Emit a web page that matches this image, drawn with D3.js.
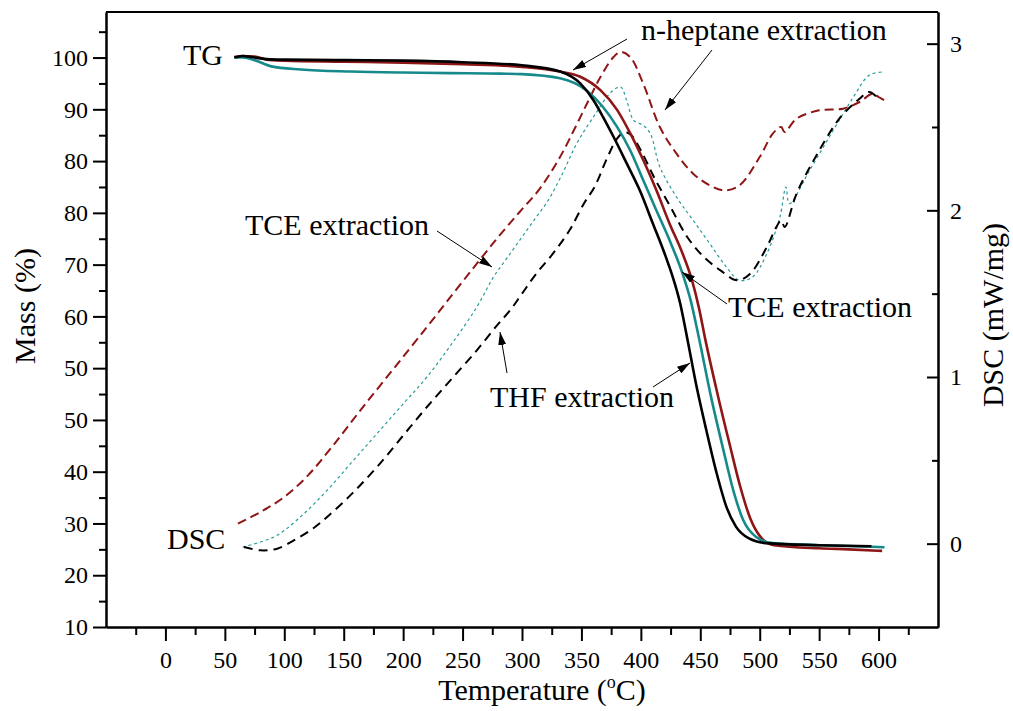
<!DOCTYPE html>
<html>
<head>
<meta charset="utf-8">
<script src="https://cdn.jsdelivr.net/npm/d3@7"></script>
<style>
  html, body { margin: 0; padding: 0; background: #fff; }
  svg text { font-family: "Liberation Serif", "Times New Roman", serif; fill: #000; }
</style>
</head>
<body>
<svg id="chart" width="1013" height="711"></svg>
<script>
// x ticks (temperature, degC)
var tempTicks = [0, 50, 100, 150, 200, 250, 300, 350, 400, 450, 500, 550, 600];
var tempMinor = [-25, 25, 75, 125, 175, 225, 275, 325, 375, 425, 475, 525, 575, 625];
// left axis: the printed labels repeat 50 and 80, so curves are kept in axis position units
var massTickPos = [10, 20, 30, 40, 50, 60, 70, 80, 90, 100, 110, 120];
var massTickLabels = ["10", "20", "30", "40", "50", "50", "60", "70", "80", "80", "90", "100"];
var massMinor = [15, 25, 35, 45, 55, 65, 75, 85, 95, 105, 115, 125];
var dscTicks = [0, 1, 2, 3];
var dscMinor = [0.5, 1.5, 2.5];

// TG curves [temperature, mass axis position]
var tgHeptane = [[58,120.1],[65,120.3],[75,120.2],[85,119.6],[100,119.4],[150,119.2],[200,119.0],[250,118.7],[300,118.2],[332,117.3],[349,116.3],[366,113.7],[380,109.9],[391,105.4],[402,100.2],[413,94.4],[424,88.0],[435,82.2],[443,77.0],[449,71.5],[454,65.8],[464,55.5],[475,45.0],[484,36.8],[492,31.0],[500,27.6],[512,25.8],[550,25.2],[575,25.0],[603,24.7]];
var tgTce = [[58,120.0],[65,120.0],[75,119.5],[89,118.3],[114,117.7],[156,117.3],[200,117.1],[240,117.0],[282,116.9],[300,116.8],[332,116.0],[354,113.7],[368,110.5],[380,106.6],[391,102.1],[402,96.3],[413,90.5],[424,84.8],[435,78.3],[442,73.0],[448,66.8],[459,54.5],[469,44.6],[478,36.2],[486,30.7],[497,27.4],[511,26.2],[550,25.8],[580,25.6],[605,25.4]];
var tgThf = [[58,120.0],[65,120.3],[72,120.1],[85,119.7],[100,119.6],[150,119.5],[200,119.4],[250,119.1],[300,118.5],[332,117.3],[349,115.0],[360,111.8],[368,108.6],[377,104.7],[388,99.6],[399,94.4],[410,88.0],[421,81.5],[427,77.5],[433,72.6],[439,65.8],[447,56.3],[455,48.1],[464,39.5],[472,33.2],[480,29.4],[491,27.1],[505,26.2],[550,25.8],[594,25.6]];

// DSC curves [temperature, mW/mg]
var dscHeptane = [[61,0.12],[80,0.19],[100,0.28],[120,0.41],[140,0.58],[164,0.80],[192,1.05],[220,1.30],[242,1.50],[262,1.68],[280,1.84],[298,1.99],[315,2.13],[332,2.32],[345,2.50],[356,2.66],[366,2.80],[377,2.92],[383,2.95],[391,2.92],[402,2.76],[416,2.50],[430,2.34],[444,2.22],[458,2.15],[470,2.12],[483,2.15],[500,2.32],[511,2.46],[518,2.50],[521,2.47],[531,2.55],[550,2.60],[570,2.61],[584,2.65],[595,2.70],[600,2.68],[605,2.66]];
var dscTce = [[65,-0.02],[80,0.01],[94,0.05],[115,0.17],[136,0.32],[157,0.49],[178,0.66],[199,0.83],[220,1.00],[241,1.20],[262,1.42],[276,1.60],[287,1.71],[298,1.82],[310,1.94],[322,2.06],[334,2.22],[346,2.40],[361,2.57],[375,2.71],[383,2.74],[388,2.66],[394,2.54],[402,2.51],[408,2.46],[416,2.26],[430,2.08],[444,1.94],[458,1.80],[472,1.66],[483,1.58],[494,1.60],[506,1.74],[517,1.96],[522,2.14],[525,2.04],[542,2.24],[561,2.47],[578,2.67],[592,2.81],[603,2.83]];
var dscThf = [[66,-0.02],[80,-0.04],[94,-0.03],[108,0.02],[122,0.08],[136,0.16],[157,0.30],[178,0.46],[199,0.64],[220,0.82],[241,0.99],[262,1.16],[279,1.31],[290,1.40],[300,1.50],[312,1.62],[326,1.74],[340,1.88],[352,2.04],[361,2.14],[372,2.32],[380,2.43],[386,2.47],[392,2.45],[400,2.36],[411,2.20],[425,2.02],[439,1.84],[453,1.72],[467,1.64],[481,1.58],[492,1.62],[506,1.78],[514,1.90],[518,1.94],[521,1.90],[531,2.10],[547,2.32],[567,2.55],[584,2.67],[592,2.71],[600,2.67]];

var svg = d3.select("#chart");
var plot = { left: 106, right: 938, top: 12, bottom: 627 };

var x = d3.scaleLinear().domain([-50, 650]).range([plot.left, plot.right]);
var yMass = d3.scaleLinear().domain([10, 128.8]).range([plot.bottom, plot.top]);
var yDsc = d3.scaleLinear().domain([-0.5, 3.19]).range([plot.bottom, plot.top]);

var defs = svg.append("defs");
defs.append("marker")
    .attr("id", "arrow")
    .attr("viewBox", "0 0 13 8")
    .attr("refX", 13).attr("refY", 4)
    .attr("markerWidth", 13).attr("markerHeight", 8)
    .attr("markerUnits", "userSpaceOnUse")
    .attr("orient", "auto")
    .append("path").attr("d", "M0,0L13,4L0,8Z").attr("fill", "#000");

function styleAxis(g) {
    g.attr("font-family", null);
    g.selectAll("path.domain").attr("stroke", "#000").attr("stroke-width", 2);
    g.selectAll(".tick line").attr("stroke", "#000").attr("stroke-width", 2);
    g.selectAll("text").attr("font-size", 24);
}

// bottom axis
var gx = svg.append("g").attr("transform", "translate(0," + plot.bottom + ")")
    .call(d3.axisBottom(x).tickValues(tempTicks).tickSize(14).tickSizeOuter(0).tickPadding(10));
styleAxis(gx);
var gxm = svg.append("g").attr("transform", "translate(0," + plot.bottom + ")")
    .call(d3.axisBottom(x).tickValues(tempMinor).tickSize(8).tickSizeOuter(0).tickFormat(""));
styleAxis(gxm);

// left axis
var gy = svg.append("g").attr("transform", "translate(" + plot.left + ",0)")
    .call(d3.axisLeft(yMass).tickValues(massTickPos).tickSize(13).tickSizeOuter(0).tickPadding(5)
        .tickFormat(function (d, i) { return massTickLabels[i]; }));
styleAxis(gy);
var gym = svg.append("g").attr("transform", "translate(" + plot.left + ",0)")
    .call(d3.axisLeft(yMass).tickValues(massMinor).tickSize(7).tickSizeOuter(0).tickFormat(""));
styleAxis(gym);

// right axis, ticks inward
var gr = svg.append("g").attr("transform", "translate(" + plot.right + ",0)")
    .call(d3.axisRight(yDsc).tickValues(dscTicks).tickSize(-11).tickSizeOuter(0).tickPadding(12)
        .tickFormat(d3.format("d")));
styleAxis(gr);
var grm = svg.append("g").attr("transform", "translate(" + plot.right + ",0)")
    .call(d3.axisRight(yDsc).tickValues(dscMinor).tickSize(-6).tickSizeOuter(0).tickFormat(""));
styleAxis(grm);

// top frame
svg.append("line")
    .attr("x1", plot.left).attr("x2", plot.right)
    .attr("y1", plot.top).attr("y2", plot.top)
    .attr("stroke", "#000").attr("stroke-width", 2);

var lineMass = d3.line().curve(d3.curveMonotoneX)
    .x(function (d) { return x(d[0]); })
    .y(function (d) { return yMass(d[1]); });
var lineDsc = d3.line().curve(d3.curveCatmullRom)
    .x(function (d) { return x(d[0]); })
    .y(function (d) { return yDsc(d[1]); });

var red = "#8e1616", teal = "#168a8a", tealLight = "#2a9a9a";

// DSC curves
svg.append("path").datum(dscHeptane).attr("d", lineDsc)
    .attr("fill", "none").attr("stroke", red).attr("stroke-width", 2).attr("stroke-dasharray", "9,5");
svg.append("path").datum(dscTce).attr("d", lineDsc)
    .attr("fill", "none").attr("stroke", tealLight).attr("stroke-width", 1.2).attr("stroke-dasharray", "3,3");
svg.append("path").datum(dscThf).attr("d", lineDsc)
    .attr("fill", "none").attr("stroke", "#000").attr("stroke-width", 2).attr("stroke-dasharray", "9,6");

// TG curves
svg.append("path").datum(tgHeptane).attr("d", lineMass)
    .attr("fill", "none").attr("stroke", red).attr("stroke-width", 2.6);
svg.append("path").datum(tgTce).attr("d", lineMass)
    .attr("fill", "none").attr("stroke", teal).attr("stroke-width", 2.6);
svg.append("path").datum(tgThf).attr("d", lineMass)
    .attr("fill", "none").attr("stroke", "#000").attr("stroke-width", 2.6);

// axis titles
var xt = svg.append("text").attr("x", 542).attr("y", 700).attr("text-anchor", "middle").attr("font-size", 30);
xt.append("tspan").text("Temperature (");
xt.append("tspan").attr("font-size", 18).attr("dy", -12).text("o");
xt.append("tspan").attr("dy", 12).text("C)");

svg.append("text").attr("transform", "translate(35,306) rotate(-90)")
    .attr("text-anchor", "middle").attr("font-size", 30).text("Mass (%)");
svg.append("text").attr("transform", "translate(1003,315) rotate(-90)")
    .attr("text-anchor", "middle").attr("font-size", 30).text("DSC (mW/mg)");

// annotations
var notes = [
    { text: "TG", x: 183, y: 65 },
    { text: "DSC", x: 167, y: 549 },
    { text: "TCE extraction", x: 245, y: 235 },
    { text: "n-heptane extraction", x: 641, y: 40 },
    { text: "TCE extraction", x: 728, y: 317 },
    { text: "THF extraction", x: 490, y: 407 }
];
svg.selectAll("text.note").data(notes).enter().append("text")
    .attr("class", "note")
    .attr("x", function (d) { return d.x; })
    .attr("y", function (d) { return d.y; })
    .attr("font-size", 30)
    .text(function (d) { return d.text; });

var arrows = [
    [627, 39, 573, 70],
    [712, 50, 665, 110],
    [437, 231, 492, 267],
    [727, 304, 682, 272],
    [507, 373, 500, 332],
    [653, 387, 690, 363]
];
svg.selectAll("line.arrow").data(arrows).enter().append("line")
    .attr("class", "arrow")
    .attr("x1", function (d) { return d[0]; })
    .attr("y1", function (d) { return d[1]; })
    .attr("x2", function (d) { return d[2]; })
    .attr("y2", function (d) { return d[3]; })
    .attr("stroke", "#000").attr("stroke-width", 1)
    .attr("marker-end", "url(#arrow)");
</script>
</body>
</html>
